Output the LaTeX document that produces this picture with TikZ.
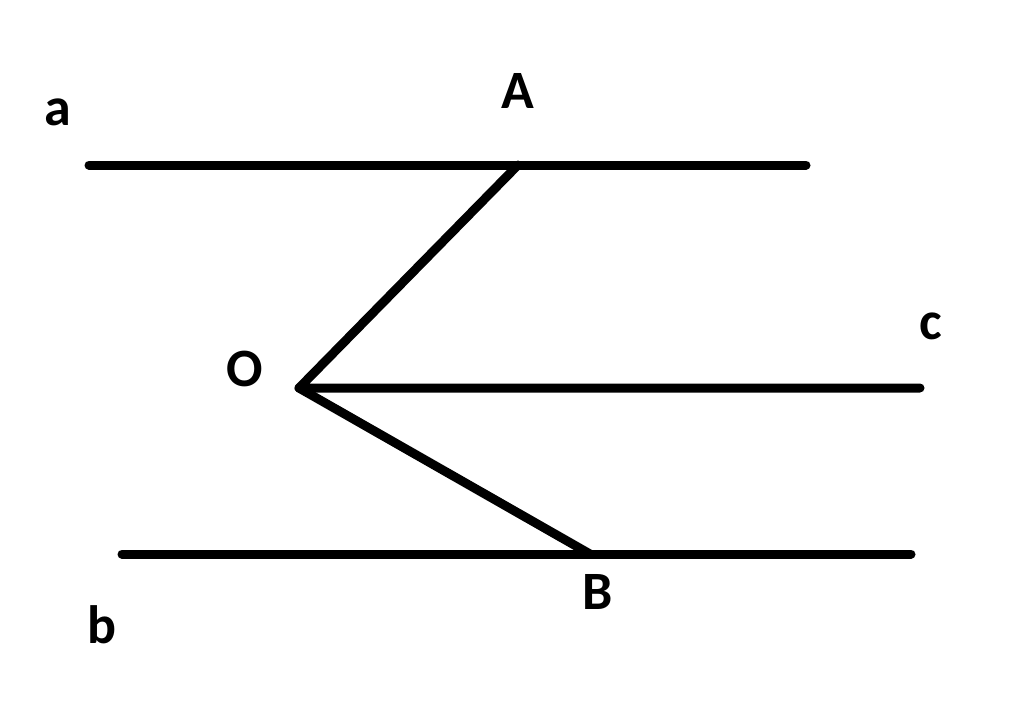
\documentclass[tikz,border=0pt]{standalone}
\usepackage{fontspec}
\setmainfont{Carlito}
\begin{document}
\begin{tikzpicture}[x=1pt,y=-1pt,
  seg/.style={line width=9pt, line join=round, line cap=round},
  lbl/.style={font=\fontsize{54}{54}\selectfont\bfseries, inner sep=0pt, anchor=center}]
\useasboundingbox[fill=white] (0,0) rectangle (1024,723);
\coordinate (a1) at (89,165);
\coordinate (a2) at (806,165);
\coordinate (A) at (518,165);
\coordinate (O) at (299,388);
\coordinate (c2) at (920,388);
\coordinate (b1) at (122,554);
\coordinate (b2) at (911,554);
\coordinate (B) at (590,554);
\draw[seg] (a1) -- (a2);
\draw[seg] (b1) -- (b2);
\draw[seg] (A) -- (O) -- (c2);
\draw[seg] (O) -- (B);
\node[lbl] (la) at (58,112) {a};
\node[lbl] (lA) at (518,91) {A};
\node[lbl] (lc) at (931,326) {c};
\node[lbl] (lO) at (245,369) {O};
\node[lbl] (lB) at (598,592) {B};
\node[lbl] (lb) at (102,625) {b};
\end{tikzpicture}
\end{document}
